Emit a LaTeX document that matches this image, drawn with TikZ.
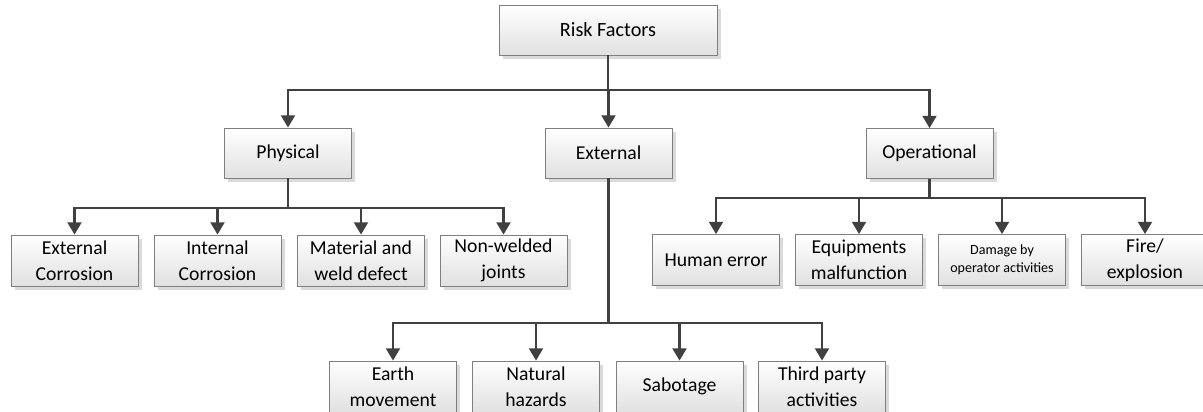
\documentclass[tikz,border=0pt]{standalone}
\usepackage{fontspec}
\setmainfont{Carlito}
\usetikzlibrary{arrows.meta, shadows}

\definecolor{linegray}{HTML}{404040}
\definecolor{boxborder}{HTML}{7F7F7F}

\begin{document}
\begin{tikzpicture}[
      x=0.02cm, y=-0.02cm,
      every node/.style={font=\fontsize{11.2}{14.7}\selectfont},
      box/.style={draw=boxborder, line width=.5pt, top color=white, bottom color=black!12,
                  minimum width=2.54cm, minimum height=1.02cm, inner sep=0pt, align=center,
                  drop shadow={shadow xshift=2pt, shadow yshift=-2pt, fill=black!18, opacity=.8}},
      link/.style={draw=linegray, line width=1.2pt, -{Triangle[length=7pt, width=8pt]}}
    ]
    \useasboundingbox (0,0) rectangle (1203,412);

    \node[box, minimum width=4.36cm, minimum height=1cm, font=\fontsize{11.5}{14}\selectfont] (risk) at (608,30) {Risk Factors};

    \node[box, minimum height=1cm] (phys) at (288,153) {Physical};
    \node[box, minimum height=1cm] (ext) at (608.5,153) {External};
    \node[box, minimum height=1cm] (oper) at (929.5,153.5) {Operational};

    \node[box] (extcorr) at (74.5,260.5) {External\\Corrosion};
    \node[box] (intcorr) at (217.5,260.5) {Internal\\Corrosion};
    \node[box] (weld) at (361,260.5) {Material and\\weld defect};
    \node[box] (joints) at (503.5,260.5) {Non-welded\\joints};

    \node[box] (human) at (716,260) {Human error};
    \node[box] (equip) at (859,260) {Equipments\\malfunction};
    \node[box, font=\fontsize{8}{10.5}\selectfont] (damage) at (1002,260) {Damage by\\operator activities};
    \node[box] (fire) at (1145,260) {Fire/\\explosion};

    \node[box] (earth) at (393,386.5) {Earth\\movement};
    \node[box] (natural) at (536,386.5) {Natural\\hazards};
    \node[box] (sabot) at (679.5,386.5) {Sabotage};
    \node[box] (third) at (822,386.5) {Third party\\activities};

    % first level
    \foreach \c in {phys, ext, oper}
        \draw[link] (risk.south) -- ++(0,35) -| (\c.north);

    % second level
    \foreach \c in {extcorr, intcorr, weld, joints}
        \draw[link] (phys.south) -- ++(0,30) -| (\c.north);
    \foreach \c in {human, equip, damage, fire}
        \draw[link] (oper.south) -- ++(0,19.5) -| (\c.north);
    \foreach \c in {earth, natural, sabot, third}
        \draw[link] (ext.south) -- ++(0,145) -| (\c.north);
  \end{tikzpicture}
\end{document}
